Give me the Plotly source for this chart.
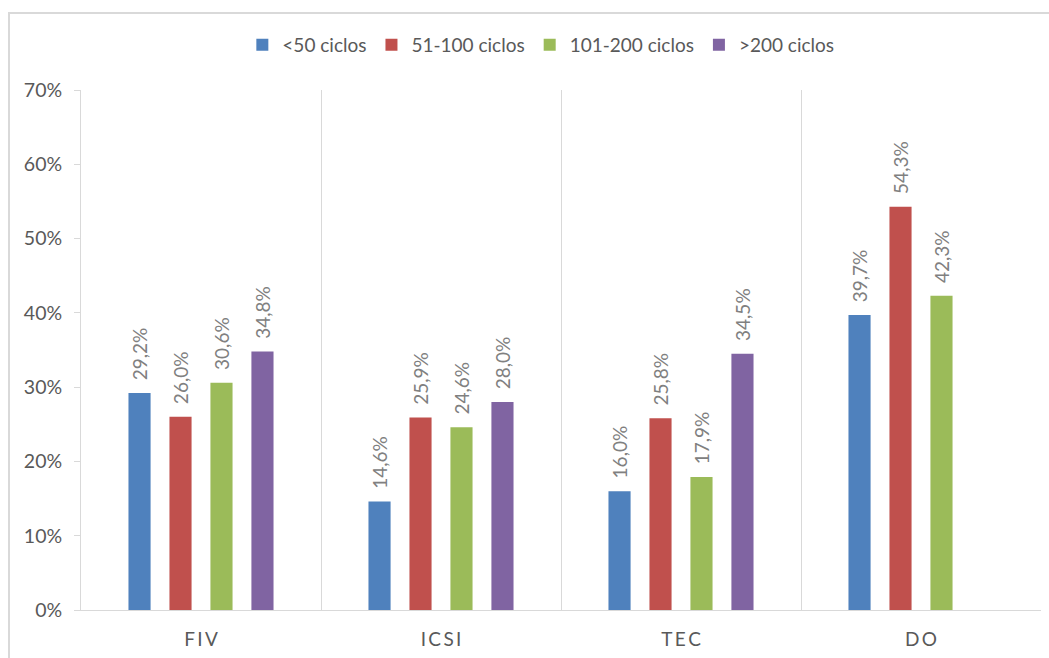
import plotly.graph_objects as go

categories = ["FIV", "ICSI", "TEC", "DO"]
category_labels = ["F\u2009I\u2009V", "I\u2009C\u2009S\u2009I", "T\u2009E\u2009C", "D\u2009O"]
series_names = ["<50 ciclos", "51-100 ciclos", "101-200 ciclos", ">200 ciclos"]
lt50 = [29.2, 14.6, 16.0, 39.7]
s51_100 = [26.0, 25.9, 25.8, 54.3]
s101_200 = [30.6, 24.6, 17.9, 42.3]
gt200 = [34.8, 28.0, 34.5, None]
colors = ["#4F81BD", "#C0504D", "#9BBB59", "#8064A2"]
y_ticks = [0, 10, 20, 30, 40, 50, 60, 70]

FONT = "Lato"
fig = go.Figure()
for name, vals, col in zip(series_names, [lt50, s51_100, s101_200, gt200], colors):
    txt = ["" if v is None else "\u00a0\u00a0" + f"{v:.1f}%".replace(".", ",") for v in vals]
    fig.add_trace(go.Bar(
        x=categories, y=vals, name=name, marker_color=col,
        marker_line_width=0,
        text=txt, textposition="outside", textangle=-90,
        constraintext="none",
        textfont=dict(family=FONT, size=19, color="#808080"),
        cliponaxis=False,
    ))

fig.update_layout(
    width=1049, height=658,
    paper_bgcolor="white", plot_bgcolor="white",
    margin=dict(l=81, r=8, t=90, b=48),
    barmode="group", bargap=0.317, bargroupgap=0.46,
    font=dict(family=FONT, color="#595959", size=19),
    legend=dict(orientation="h", x=0.479, xanchor="center", y=1.0865, yanchor="middle",
                font=dict(family=FONT, size=19, color="#595959"),
                itemwidth=30, traceorder="normal"),
    shapes=[dict(type="rect", xref="paper", yref="paper",
                 x0=(9 - 81) / 960, x1=(1052 - 81) / 960,
                 y0=(610 - 662) / 520, y1=1 + (90 - 13) / 520,
                 line=dict(color="#D9D9D9", width=2), layer="below")],
)
fig.update_xaxes(
    type="category", tickvals=categories, ticktext=category_labels,
    showline=True, linecolor="#D9D9D9", linewidth=1,
    showgrid=True, gridcolor="#D9D9D9", gridwidth=1, tickson="boundaries",
    ticks="", ticklabelstandoff=12, tickfont=dict(family=FONT, size=19, color="#595959"),
    range=[-0.5, 3.5],
)
fig.update_yaxes(
    range=[0, 70], tickvals=y_ticks, ticktext=[f"{t}%" for t in y_ticks],
    showline=True, linecolor="#D9D9D9", linewidth=1,
    showgrid=False, zeroline=False,
    ticks="outside", ticklen=6, tickcolor="#D9D9D9",
    ticklabelstandoff=8, tickfont=dict(family=FONT, size=19.5, color="#595959"),
)
fig.write_html("out.html", config={"displayModeBar": False},
               post_script="document.body.style.margin='0';")
